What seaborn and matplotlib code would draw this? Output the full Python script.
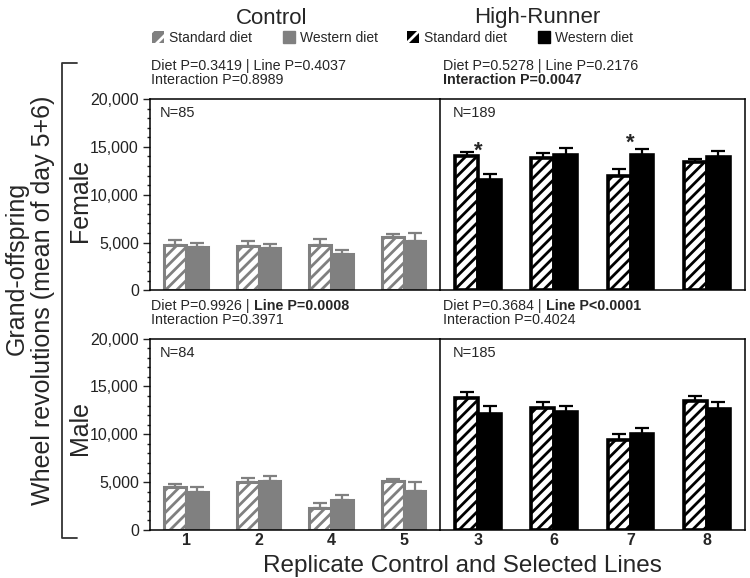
import numpy as np
import pandas as pd
import matplotlib
matplotlib.use("Agg")
import matplotlib.pyplot as plt
import seaborn as sns
from matplotlib.patches import Patch
from matplotlib.lines import Line2D
from matplotlib.ticker import MultipleLocator, FuncFormatter

# --- data ---
control_lines = ['1', '2', '4', '5']
hr_lines = ['3', '6', '7', '8']
diets = ['Standard diet', 'Western diet']

# female
f_ctrl_std = [4800, 4650, 4800, 5550]
f_ctrl_std_se = [450, 550, 600, 300]
f_ctrl_wes = [4550, 4400, 3800, 5150]
f_ctrl_wes_se = [400, 450, 400, 850]
f_hr_std = [14000, 13850, 12000, 13400]
f_hr_std_se = [500, 500, 650, 300]
f_hr_wes = [11500, 14200, 14200, 13900]
f_hr_wes_se = [700, 650, 600, 700]

# male
m_ctrl_std = [4450, 5050, 2250, 5100]
m_ctrl_std_se = [350, 350, 600, 250]
m_ctrl_wes = [3950, 5150, 3150, 4100]
m_ctrl_wes_se = [550, 450, 500, 900]
m_hr_std = [13800, 12750, 9450, 13500]
m_hr_std_se = [600, 600, 600, 550]
m_hr_wes = [12150, 12300, 10050, 12650]
m_hr_wes_se = [800, 650, 600, 700]

n_labels = [['N=85', 'N=189'], ['N=84', 'N=185']]
# (text, bold) pieces for the two stat lines of each panel
stat_lines = [
    [[[('Diet P=0.3419 | Line P=0.4037', False)], [('Interaction P=0.8989', False)]],
     [[('Diet P=0.5278 | Line P=0.2176', False)], [('Interaction P=0.0047', True)]]],
    [[[('Diet P=0.9926 | ', False), ('Line P=0.0008', True)], [('Interaction P=0.3971', False)]],
     [[('Diet P=0.3684 | ', False), ('Line P<0.0001', True)], [('Interaction P=0.4024', False)]]],
]
star_lines = ['3', '7']          # female HR lines with diet difference
star_y = [15400, 16200]

GRAY = '#808080'

sns.set_theme(style='white')
plt.rcParams['font.family'] = ['Liberation Sans', 'DejaVu Sans']
plt.rcParams['hatch.linewidth'] = 2.0
plt.rcParams['axes.edgecolor'] = 'black'

fig = plt.figure(figsize=(7.5, 5.78), dpi=100)
gs = fig.add_gridspec(2, 2, left=0.2, right=0.9933, top=0.8287, bottom=0.083,
                      hspace=0.251, wspace=0, width_ratios=[290, 305])


def draw_panel(ax, lines, std, std_se, wes, wes_se, color, lw):
    df = pd.DataFrame({'line': lines * 2,
                       'diet': [diets[0]] * 4 + [diets[1]] * 4,
                       'mean': std + wes})
    sns.barplot(data=df, x='line', y='mean', hue='diet', order=lines, hue_order=diets,
                palette=['white', color], saturation=1, width=0.6, errorbar=None,
                legend=False, ax=ax)
    for k, (cont, se) in enumerate(zip(ax.containers, [std_se, wes_se])):
        xs, tops = [], []
        for bar in cont:
            bar.set_edgecolor(color)
            bar.set_linewidth(lw)
            if k == 0:
                bar.set_facecolor('white')
                bar.set_hatch('///')
            else:
                bar.set_facecolor(color)
            xs.append(bar.get_x() + bar.get_width() / 2)
            tops.append(bar.get_height())
        ax.errorbar(xs, tops, yerr=[np.zeros(len(se)), se], fmt='none', ecolor=color,
                    elinewidth=1.6, capsize=5, capthick=1.6, zorder=0.5)
    ax.set_xlim(-0.5, 3.5)
    ax.set_ylim(0, 20000)
    ax.set_xlabel('')
    ax.set_ylabel('')


panels = [
    [(control_lines, f_ctrl_std, f_ctrl_std_se, f_ctrl_wes, f_ctrl_wes_se, GRAY, 2.2),
     (hr_lines, f_hr_std, f_hr_std_se, f_hr_wes, f_hr_wes_se, 'black', 2.6)],
    [(control_lines, m_ctrl_std, m_ctrl_std_se, m_ctrl_wes, m_ctrl_wes_se, GRAY, 2.2),
     (hr_lines, m_hr_std, m_hr_std_se, m_hr_wes, m_hr_wes_se, 'black', 2.6)],
]

axes = [[None, None], [None, None]]
for r in range(2):
    for c in range(2):
        ax = fig.add_subplot(gs[r, c])
        axes[r][c] = ax
        draw_panel(ax, *panels[r][c])
        for s in ax.spines.values():
            s.set_linewidth(1.1)
            s.set_color('black')
        if c == 0:
            ax.spines['right'].set_visible(False)
            ax.yaxis.set_major_locator(MultipleLocator(5000))
            ax.yaxis.set_minor_locator(MultipleLocator(1000))
            ax.yaxis.set_major_formatter(FuncFormatter(lambda v, p: f'{v:,.0f}'))
            ax.tick_params(axis='y', which='major', left=True, direction='out',
                           length=5, width=1, labelsize=11.5, colors='#222222', pad=3)
            ax.tick_params(axis='y', which='minor', left=True, direction='out',
                           length=2.5, width=1, color='#222222')
        else:
            ax.set_yticks([])
        ax.tick_params(axis='x', length=0)
        if r == 0:
            ax.set_xticklabels([])
        else:
            ax.tick_params(axis='x', labelsize=11.5, pad=2.5)
            for t in ax.get_xticklabels():
                t.set_fontweight('bold')

        ax.text(0.035 if c == 0 else 0.043, 0.925, n_labels[r][c], transform=ax.transAxes,
                fontsize=10.5, va='center', ha='left')

        dx = 1 if c == 0 else 2.5
        for li, dy in enumerate([23.5, 13.5]):
            prev = None
            for text, bold in stat_lines[r][c][li]:
                w = 'bold' if bold else 'normal'
                if prev is None:
                    prev = ax.annotate(text, xy=(0, 1), xycoords='axes fraction',
                                       xytext=(dx, dy), textcoords='offset points',
                                       va='center', ha='left', fontsize=10.3, fontweight=w,
                                       annotation_clip=False)
                else:
                    prev = ax.annotate(text, xy=(1, 0.5), xycoords=prev, va='center',
                                       ha='left', fontsize=10.3, fontweight=w)

# significance stars on female HR
ax = axes[0][1]
for ln, ys in zip(star_lines, star_y):
    ax.annotate('*', xy=(hr_lines.index(ln), ys), xytext=(0, -9.5),
                textcoords='offset points', ha='center', va='baseline',
                fontsize=16, fontweight='bold')

# titles and legends
fig.text(272 / 750, 1 - 18 / 578, 'Control', ha='center', va='center', fontsize=16)
fig.text(537 / 750, 1 - 18 / 578, 'High-Runner', ha='center', va='center', fontsize=16)

ctrl_handles = [Patch(facecolor=GRAY, edgecolor='white', hatch='//', linewidth=0),
                Patch(facecolor=GRAY, edgecolor=GRAY)]
hr_handles = [Patch(facecolor='black', edgecolor='white', hatch='//', linewidth=0),
              Patch(facecolor='black', edgecolor='black')]
leg_kw = dict(ncol=2, loc='center', frameon=False, fontsize=10, handlelength=0.9,
              handleheight=0.9, handletextpad=0.35, columnspacing=2.2)
leg1 = fig.legend(ctrl_handles, diets, bbox_to_anchor=(265 / 750, 1 - 38 / 578), **leg_kw)
leg2 = fig.legend(hr_handles, diets, bbox_to_anchor=(520 / 750, 1 - 38 / 578), **leg_kw)

# y labels
fig.text(80 / 750, 1 - 200 / 578, 'Female', rotation=90, ha='center', va='center', fontsize=18)
fig.text(80 / 750, 1 - 428 / 578, 'Male', rotation=90, ha='center', va='center', fontsize=18)
fig.text(17 / 750, 1 - 268 / 578, 'Grand-offspring', rotation=90, ha='center', va='center',
         fontsize=18)
fig.text(43 / 750, 1 - 300 / 578, 'Wheel revolutions (mean of day 5+6)', rotation=90,
         ha='center', va='center', fontsize=18)

# bracket
bx0, bx1 = 62 / 750, 77 / 750
by0, by1 = 1 - 538 / 578, 1 - 63 / 578
fig.add_artist(Line2D([bx1, bx0, bx0, bx1], [by1, by1, by0, by0], transform=fig.transFigure,
                      color='#333333', linewidth=1.3))

fig.text(462 / 750, 1 - 572 / 578, 'Replicate Control and Selected Lines', ha='center',
         va='baseline', fontsize=17.5)

fig.savefig('out.png', dpi=100)
